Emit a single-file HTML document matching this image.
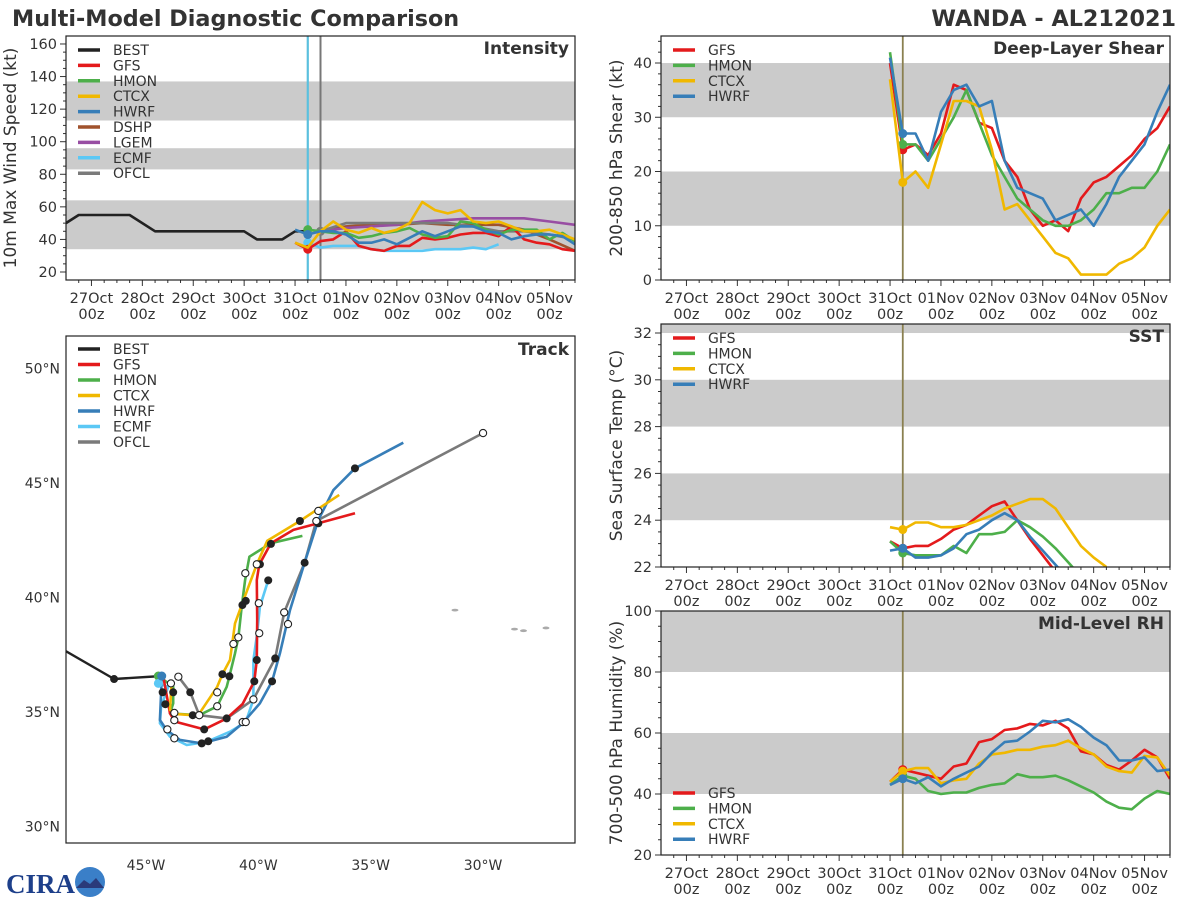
<!DOCTYPE html>
<html><head><meta charset="utf-8">
<style>
html,body{margin:0;padding:0;background:#fff;}
svg{display:block;font-family:"DejaVu Sans","Liberation Sans",sans-serif;}
</style></head>
<body>
<svg id="chart" width="1200" height="900" viewBox="0 0 1200 900" xmlns="http://www.w3.org/2000/svg">
<rect width="1200" height="900" fill="#fff"/>
<text x="12" y="26" font-size="22.3" font-weight="bold" fill="#333">Multi-Model Diagnostic Comparison</text>
<text x="1176" y="26" font-size="22.3" font-weight="bold" fill="#333" text-anchor="end">WANDA - AL212021</text>
<g>
<text x="6" y="893" font-size="27" font-weight="bold" fill="#1d3f8a" font-family="Liberation Serif, serif">CIRA</text>
<circle cx="90" cy="882" r="15" fill="#3a7fc8"/>
<path d="M76 888 L84 880 L90 884 L96 878 L104 888 Z" fill="#2a3a7a"/>
</g>
</svg>
<script>
// ---------- data ----------
const dayLabels = ['27Oct','28Oct','29Oct','30Oct','31Oct','01Nov','02Nov','03Nov','04Nov','05Nov'];
const modelStart = 4.0;   // days since 27Oct 00z
const stepDays = 0.25;
const initTime = 4.25;
const ofclTime = 4.5;

// Intensity (kt)
const bestTimes = [-0.5,-0.25,0.75,1.25,3.0,3.25,3.75,4.0,4.25];
const bestInt = [50,55,55,45,45,40,40,45,45];
const intGFS  = [38,34,39,40,45,36,34,33,36,36,41,40,41,43,44,44,42,48,40,38,37,34,33];
const intHMON = [null,46,45,44,44,41,42,44,45,47,43,41,42,51,50,46,43,46,46,46,40,44,39];
const intCTCX = [38,35,45,51,46,44,47,44,46,50,63,58,56,58,51,50,51,48,45,45,46,43,40];
const intHWRF = [46,43,45,45,43,38,38,40,37,41,45,42,45,48,48,45,44,40,42,43,43,42,37];
const intECMF = [null,38,35,36,36,36,34,33,33,33,33,34,34,34,35,34,37];
const intTimes12 = [4.5,5.0,5.5,6.0,6.5,7.0,7.5,8.0,8.5,9.0,9.5];
const intDSHP = [45,48,49,49,50,49,49,49,46,40,33];
const intLGEM = [45,47,48,49,51,52,53,53,53,51,49];
const intOFCL = [45,50,50,50,50,50,48,45,45,43,40];

// Shear (kt)
const shrGFS  = [40,24,25,23,27,36,35,29,28,22,19,13,10,11,9,15,18,19,21,23,26,28,32];
const shrHMON = [42,25,25,22,26,30,35,29,23,19,15,13,11,10,10,11,13,16,16,17,17,20,25];
const shrCTCX = [37,18,20,17,25,33,33,32,24,13,14,11,8,5,4,1,1,1,3,4,6,10,13];
const shrHWRF = [41,27,27,22,31,35,36,32,33,22,17,16,15,11,12,13,10,14,19,22,25,31,36];

// SST (C)
const sstGFS  = [23.1,22.8,22.9,22.9,23.2,23.6,23.8,24.2,24.6,24.8,24.0,23.2,22.5,21.8];
const sstHMON = [23.1,22.6,22.5,22.5,22.5,22.9,22.6,23.4,23.4,23.5,24.0,23.7,23.3,22.8,22.2,21.6];
const sstCTCX = [23.7,23.6,23.9,23.9,23.7,23.7,23.8,24.0,24.2,24.5,24.7,24.9,24.9,24.5,23.7,22.9,22.4,22.0];
const sstHWRF = [22.7,22.8,22.4,22.4,22.5,22.8,23.4,23.6,24.0,24.3,24.0,23.3,22.7,22.1,21.5];

// RH (%)
const rhGFS  = [44,48,47,46,45,49,50,57,58,61,61.5,63,62.5,64,61.5,54,53,49.5,48,51,54.5,52,45];
const rhHMON = [43,46,45,41,40,40.5,40.5,42,43,43.5,46.5,45.5,45.5,46,44.5,42.5,40.5,37.5,35.5,35,38.5,41,40];
const rhCTCX = [44,47.5,48.5,48.5,43.5,44.5,45,50,53,53.5,54.5,54.5,55.5,56,57.5,55,53,49,47.5,47,52.5,52,46];
const rhHWRF = [43,45,43.5,45.5,42.5,45,47,49,53.5,57,57.5,60.5,64,63.5,64.5,62,58.5,56,51,51,52,47.5,48];

// Tracks: [west longitude, latitude]
const trkBEST = [[49.0,37.9],[46.42,36.44],[44.29,36.57]];
const trkGFS = [[44.23,36.54],[43.93,34.94],[43.71,34.58],[42.41,34.24],[41.41,34.72],[40.70,35.35],[40.18,36.34],[40.07,37.27],[40.05,39.02],[40.07,40.76],[39.96,41.43],[39.44,42.37],[38.44,42.95],[37.33,43.24],[35.70,43.68]];
const trkHMON = [[44.45,36.57],[43.79,36.10],[43.79,35.38],[43.93,34.94],[42.63,34.86],[41.83,35.25],[41.41,36.10],[41.29,36.56],[41.04,37.56],[40.89,38.26],[40.74,39.60],[40.59,40.76],[40.40,41.78],[39.44,42.37],[38.04,42.69]];
const trkCTCX = [[43.86,36.25],[43.93,35.09],[43.63,34.91],[42.92,34.86],[42.60,34.97],[41.83,36.10],[41.60,36.65],[41.26,37.27],[41.04,38.87],[40.74,39.67],[40.07,41.45],[39.60,42.48],[38.15,43.34],[36.40,44.48]];
const trkHWRF = [[44.30,36.57],[44.33,35.82],[44.38,34.65],[44.08,34.21],[43.49,33.78],[42.52,33.63],[41.41,33.92],[40.70,34.51],[39.93,35.38],[39.39,36.34],[39.04,37.56],[38.59,39.45],[37.94,41.52],[37.33,43.38],[36.66,44.69],[35.70,45.64],[33.55,46.76]];
const trkECMF = [[44.45,36.25],[44.01,36.10],[44.33,35.23],[44.38,34.51],[43.93,33.92],[43.19,33.56],[42.30,33.70],[41.26,34.14],[40.56,34.56],[40.22,35.55],[40.22,37.27],[40.05,38.44],[39.93,39.60],[39.56,40.75]];
const trkOFCL = [[43.56,36.54],[43.03,35.86],[42.63,34.86],[41.41,34.72],[40.22,35.55],[39.25,37.34],[38.85,39.35],[37.94,41.52],[37.42,43.34],[30.0,47.18]];
const dotsFilled = [[46.42,36.44],[44.26,35.86],[44.14,35.34],[43.79,35.86],[43.03,35.86],[42.92,34.86],[42.41,34.24],[42.52,33.63],[42.23,33.72],[41.60,36.65],[41.29,36.56],[41.41,34.72],[40.71,39.67],[40.56,39.85],[40.18,36.34],[40.07,37.27],[39.93,41.45],[39.56,40.75],[39.44,42.34],[39.25,37.34],[39.39,36.34],[38.15,43.34],[37.94,41.52],[37.33,43.24],[35.70,45.64]];
const dotsOpen = [[43.74,34.96],[43.74,34.64],[44.05,34.24],[43.74,33.85],[43.89,36.25],[43.56,36.54],[42.63,34.86],[41.83,35.86],[41.83,35.25],[41.11,37.97],[40.89,38.26],[40.58,41.06],[40.07,41.45],[39.98,39.75],[39.96,38.44],[40.70,34.56],[40.56,34.56],[40.22,35.55],[38.85,39.35],[38.68,38.84],[37.33,43.78],[37.42,43.34],[30.0,47.18]];
const islands = [[31.25,39.45],[28.6,38.62],[28.2,38.55],[27.2,38.67]];
const latTicks = [30,35,40,45,50];
const lonTicks = [45,40,35,30];

// ---------- helpers ----------
const NS='http://www.w3.org/2000/svg';
const svg=document.getElementById('chart');
const C={BEST:'#222222',GFS:'#e41a1c',HMON:'#4daf4a',CTCX:'#f0b800',HWRF:'#377eb8',DSHP:'#a0522d',LGEM:'#984ea3',ECMF:'#5bc8f5',OFCL:'#7a7a7a'};
function mk(tag,attrs,parent){const e=document.createElementNS(NS,tag);for(const k in attrs)e.setAttribute(k,attrs[k]);(parent||svg).appendChild(e);return e;}
function named(e,name,inter){
  
  
  return e;}
function txt(s,attrs,parent,name){const e=mk('text',Object.assign({fill:'#333','font-size':14},attrs),parent);e.textContent=s;named(e,name,false);return e;}
let clipId=0;

function tsPanel(opt){
  const g=named(mk('g',{}),opt.name+'-panel',false);
  const {x0,x1,y0,y1,ymin,ymax}=opt;
  const sx=t=>x0+(t+0.5)/10*(x1-x0);
  const sy=v=>y1-(v-ymin)/(ymax-ymin)*(y1-y0);
  const cid='clip'+(clipId++);
  const cp=mk('clipPath',{id:cid},g);mk('rect',{x:x0,y:y0,width:x1-x0,height:y1-y0},cp);
  const pg=named(mk('g',{'clip-path':`url(#${cid})`},g),opt.name+'-plot-area',false);
  opt.bands.forEach((b,i)=>{named(mk('rect',{x:x0,y:sy(b[1]),width:x1-x0,height:sy(b[0])-sy(b[1]),fill:'#cbcbcb'},pg),opt.name+'-band-'+i,false);});
  for(let v=opt.ytick0;v<=ymax+1e-6;v+=opt.yminor){const maj=Math.abs((v-opt.ytick0)/opt.ystep-Math.round((v-opt.ytick0)/opt.ystep))<1e-6;
    if(sy(v)<y0-0.5)continue;
    named(mk('line',{x1:x0,x2:x0-(maj?6:3),y1:sy(v),y2:sy(v),stroke:'#333','stroke-width':1},g),opt.name+'-ytick',false);
    if(maj)txt(String(v),{x:x0-9,y:sy(v)+5,'text-anchor':'end','font-size':14.5},g,opt.name+'-ytick-label');}
  for(let t=-0.25;t<=9.5;t+=0.25){const maj=Math.abs(t-Math.round(t))<1e-6;
    named(mk('line',{x1:sx(t),x2:sx(t),y1:y1,y2:y1+(maj?6:3),stroke:'#333','stroke-width':1},g),opt.name+'-xtick',false);}
  dayLabels.forEach((d,i)=>{txt(d,{x:sx(i),y:y1+23,'text-anchor':'middle','font-size':14.5},g,opt.name+'-xlabel');txt('00z',{x:sx(i),y:y1+39,'text-anchor':'middle','font-size':14.5},g,opt.name+'-xlabel-hour');});
  txt(opt.ytitle,{x:0,y:0,'text-anchor':'middle','font-size':17,transform:`translate(${opt.ytx},${(y0+y1)/2}) rotate(-90)`},g,opt.name+'-y-axis-title');
  opt.vlines.forEach(v=>named(mk('line',{x1:sx(v[0]),x2:sx(v[0]),y1:y0,y2:y1,stroke:v[1],'stroke-width':v[2]},pg),opt.name+'-init-line',false));
  opt.series.forEach(s=>{
    let d='',pen=false;
    s.vals.forEach((v,i)=>{if(v==null){pen=false;return;}const t=s.times?s.times[i]:modelStart+i*stepDays;d+=(pen?'L':'M')+sx(t).toFixed(1)+' '+sy(v).toFixed(1);pen=true;});
    named(mk('path',{d,fill:'none',stroke:C[s.key],'stroke-width':2.6,'stroke-linejoin':'round'},pg),opt.name+'-line-'+s.key.toLowerCase(),false);
    if(s.dot!=null){const t=s.dotT;const i=s.times?s.times.indexOf(t):Math.round((t-modelStart)/stepDays);const v=s.vals[i];
      if(v!=null)named(mk('circle',{cx:sx(t),cy:sy(v),r:4.5,fill:C[s.key]},pg),opt.name+'-init-dot-'+s.key.toLowerCase(),false);}
  });
  named(mk('rect',{x:x0,y:y0,width:x1-x0,height:y1-y0,fill:'none',stroke:'#222','stroke-width':1.2},g),opt.name+'-frame',false);
  txt(opt.label,{x:x1-6,y:y0+18,'text-anchor':'end','font-size':17,'font-weight':'bold'},g,opt.name+'-panel-label');
  opt.legend.forEach((k,i)=>{const ly=opt.ly+i*opt.lstep;
    const lg=named(mk('g',{},g),'legend-entry-'+k.toLowerCase(),true);
    mk('line',{x1:opt.lx,x2:opt.lx+22,y1:ly,y2:ly,stroke:C[k],'stroke-width':3.5},lg);
    txt(k,{x:opt.lx+35,y:ly+5,'font-size':14},lg,'legend-label');});
}

tsPanel({name:'intensity',x0:66,x1:575,y0:36,y1:280,ymin:15.09,ymax:164.9,ytick0:20,ystep:20,yminor:5,
  bands:[[34,64],[83,96],[113,137]],ytitle:'10m Max Wind Speed (kt)',ytx:16,label:'Intensity',
  vlines:[[initTime,'#5bc0de',2.2],[ofclTime,'#777',2]],
  series:[
   {key:'BEST',vals:bestInt,times:bestTimes},
   {key:'DSHP',vals:intDSHP,times:intTimes12},
   {key:'LGEM',vals:intLGEM,times:intTimes12},
   {key:'OFCL',vals:intOFCL,times:intTimes12,dot:1,dotT:4.5},
   {key:'ECMF',vals:intECMF,dot:1,dotT:initTime},
   {key:'GFS',vals:intGFS,dot:1,dotT:initTime},
   {key:'HMON',vals:intHMON,dot:1,dotT:initTime},
   {key:'CTCX',vals:intCTCX},
   {key:'HWRF',vals:intHWRF,dot:1,dotT:initTime}],
  legend:['BEST','GFS','HMON','CTCX','HWRF','DSHP','LGEM','ECMF','OFCL'],lx:78,ly:50,lstep:15.4});

const sv=[[initTime,'#8a8050',1.8]];
tsPanel({name:'shear',x0:661,x1:1170,y0:36,y1:280,ymin:0,ymax:44.98,ytick0:0,ystep:10,yminor:2,
  bands:[[10,20],[30,40]],ytitle:'200-850 hPa Shear (kt)',ytx:622,label:'Deep-Layer Shear',vlines:sv,
  series:[{key:'GFS',vals:shrGFS,dot:1,dotT:initTime},{key:'HMON',vals:shrHMON,dot:1,dotT:initTime},{key:'CTCX',vals:shrCTCX,dot:1,dotT:initTime},{key:'HWRF',vals:shrHWRF,dot:1,dotT:initTime}],
  legend:['GFS','HMON','CTCX','HWRF'],lx:673,ly:50,lstep:15.4});

tsPanel({name:'sst',x0:661,x1:1170,y0:324,y1:567,ymin:22,ymax:32.385,ytick0:22,ystep:2,yminor:0.5,
  bands:[[24,26],[28,30],[32,33]],ytitle:'Sea Surface Temp (°C)',ytx:622,label:'SST',vlines:sv,
  series:[{key:'GFS',vals:sstGFS,dot:1,dotT:initTime},{key:'HMON',vals:sstHMON,dot:1,dotT:initTime},{key:'CTCX',vals:sstCTCX,dot:1,dotT:initTime},{key:'HWRF',vals:sstHWRF,dot:1,dotT:initTime}],
  legend:['GFS','HMON','CTCX','HWRF'],lx:673,ly:338,lstep:15.4});

tsPanel({name:'rh',x0:661,x1:1170,y0:611,y1:855,ymin:20,ymax:100,ytick0:20,ystep:20,yminor:5,
  bands:[[40,60],[80,100]],ytitle:'700-500 hPa Humidity (%)',ytx:622,label:'Mid-Level RH',vlines:sv,
  series:[{key:'GFS',vals:rhGFS,dot:1,dotT:initTime},{key:'HMON',vals:rhHMON,dot:1,dotT:initTime},{key:'CTCX',vals:rhCTCX,dot:1,dotT:initTime},{key:'HWRF',vals:rhHWRF,dot:1,dotT:initTime}],
  legend:['GFS','HMON','CTCX','HWRF'],lx:673,ly:793,lstep:15.4});

// ---------- track panel ----------
(function(){
  const x0=66,x1=575,y0=336,y1=843;
  const lx=w=>146+(45-w)*22.47;
  const ly=l=>712-(l-35)*22.9;
  const g=named(mk('g',{}),'track-panel',false);
  const cp=mk('clipPath',{id:'trkclip'},g);mk('rect',{x:x0,y:y0,width:x1-x0,height:y1-y0},cp);
  const pg=named(mk('g',{'clip-path':'url(#trkclip)'},g),'track-map-area',false);
  islands.forEach(p=>named(mk('ellipse',{cx:lx(p[0]),cy:ly(p[1]),rx:3.5,ry:1.4,fill:'#aaa'},pg),'island',false));
  const tracks=[['BEST',trkBEST],['OFCL',trkOFCL],['ECMF',trkECMF],['HWRF',trkHWRF],['HMON',trkHMON],['GFS',trkGFS],['CTCX',trkCTCX]];
  tracks.forEach(([k,arr])=>{const d=arr.map((p,i)=>(i?'L':'M')+lx(p[0]).toFixed(1)+' '+ly(p[1]).toFixed(1)).join('');
    named(mk('path',{d,fill:'none',stroke:C[k],'stroke-width':k==='BEST'?2.4:2.6,'stroke-linejoin':'round'},pg),'track-'+k.toLowerCase(),false);});
  [['HMON',trkHMON],['ECMF',trkECMF],['HWRF',trkHWRF]].forEach(([k,arr])=>named(mk('circle',{cx:lx(arr[0][0]),cy:ly(arr[0][1]),r:4.5,fill:C[k]},pg),'track-start-'+k.toLowerCase(),false));
  dotsFilled.forEach(p=>named(mk('circle',{cx:lx(p[0]),cy:ly(p[1]),r:4,fill:'#222'},pg),'track-day-marker',false));
  dotsOpen.forEach(p=>named(mk('circle',{cx:lx(p[0]),cy:ly(p[1]),r:3.6,fill:'#fff',stroke:'#222','stroke-width':1.1},pg),'track-halfday-marker',false));
  named(mk('rect',{x:x0,y:y0,width:x1-x0,height:y1-y0,fill:'none',stroke:'#222','stroke-width':1.2},g),'track-frame',false);
  latTicks.forEach(l=>txt(l+'°N',{x:x0-6,y:ly(l)+5,'text-anchor':'end','font-size':14},g,'lat-label'));
  lonTicks.forEach(w=>txt(w+'°W',{x:lx(w),y:y1+27,'text-anchor':'middle','font-size':14},g,'lon-label'));
  txt('Track',{x:x1-6,y:y0+19,'text-anchor':'end','font-size':17,'font-weight':'bold'},g,'track-panel-label');
  ['BEST','GFS','HMON','CTCX','HWRF','ECMF','OFCL'].forEach((k,i)=>{const yy=349+i*15.5;
    const lg=named(mk('g',{},g),'track-legend-entry-'+k.toLowerCase(),true);
    mk('line',{x1:78,x2:100,y1:yy,y2:yy,stroke:C[k],'stroke-width':3.5},lg);
    txt(k,{x:113,y:yy+5,'font-size':14},lg,'legend-label');});
})();
</script>
</body></html>
